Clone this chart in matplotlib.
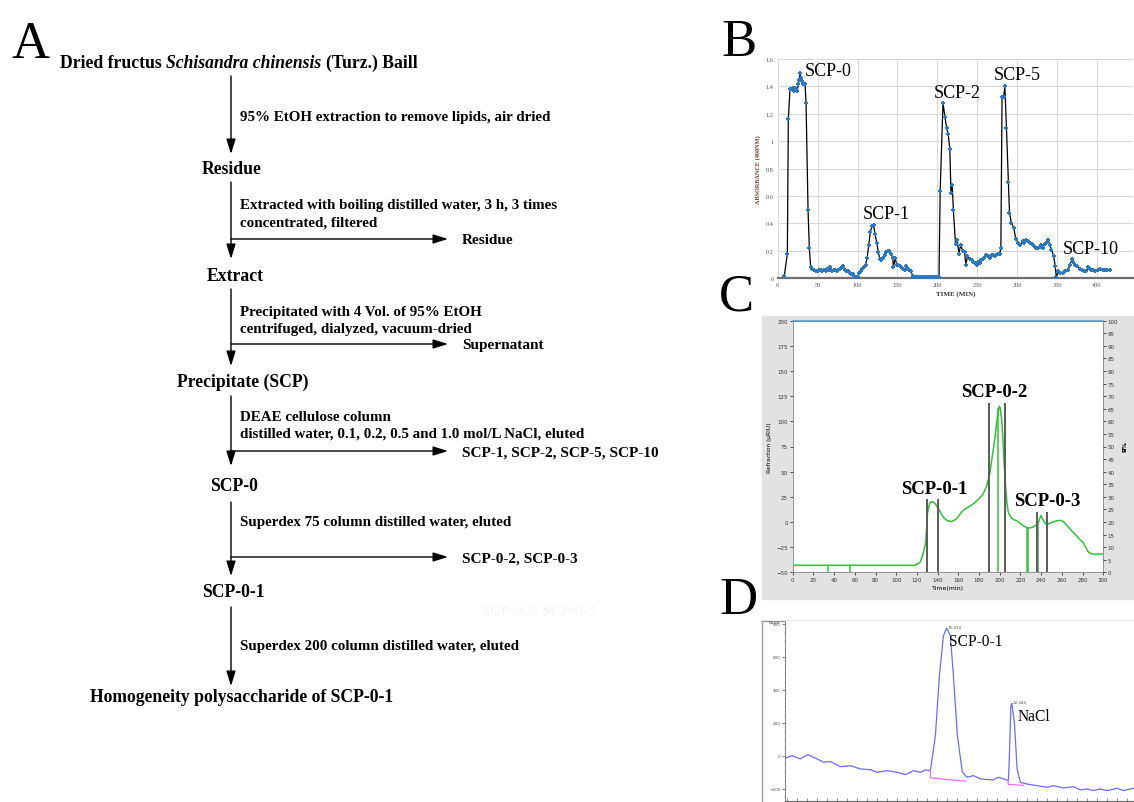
import matplotlib
matplotlib.use('Agg')
import matplotlib.pyplot as plt
from matplotlib.patches import Rectangle, ArrowStyle
from matplotlib.ticker import MultipleLocator

W, H = 1134, 803
SERIF = 'Liberation Serif'
SANS = 'DejaVu Sans'

# ---------------- Panel A: flow chart text ----------------
title_parts = [("Dried fructus", 'normal'), ("Schisandra chinensis", 'italic'), ("(Turz.) Baill", 'normal')]
headings = ["Residue", "Extract", "Precipitate (SCP)", "SCP-0", "SCP-0-1",
            "Homogeneity polysaccharide of SCP-0-1"]
steps = [["95% EtOH extraction to remove lipids, air dried"],
         ["Extracted with boiling distilled water, 3 h, 3 times", "concentrated, filtered"],
         ["Precipitated with 4 Vol. of 95% EtOH", "centrifuged, dialyzed, vacuum-dried"],
         ["DEAE cellulose column", "distilled water, 0.1, 0.2, 0.5 and 1.0 mol/L NaCl, eluted"],
         ["Superdex 75 column distilled water, eluted"],
         ["Superdex 200 column distilled water, eluted"]]
branches = ["Residue", "Supernatant", "SCP-1, SCP-2, SCP-5, SCP-10", "SCP-0-2, SCP-0-3"]

# ---------------- Panel B: DEAE elution ----------------
b_time = [8.3, 12.1, 13.3, 15.4, 17.5, 18.8, 20.5, 21.7, 23.3, 24.6, 26, 27.1, 27.9, 29, 30.2, 32, 34.2, 35.5,
          38, 39.6, 41.3, 43.5, 45.5, 48, 50, 52, 54, 56, 58, 60, 62, 64, 66, 68, 70, 72, 74, 76, 78, 80, 82,
          84, 86, 88, 90, 92, 94, 96, 98, 100, 102, 104, 106, 108, 110, 112, 114, 116, 118, 120, 122, 124,
          126, 128, 130, 132, 134, 136, 138, 140, 142, 144, 145, 147, 149, 151, 153, 155, 157, 159, 161, 163,
          165, 167, 169, 170, 172, 174, 176, 178, 180, 182, 184, 186, 188, 190, 192, 194, 196, 198, 200, 202,
          203.5, 207, 209.4, 211.5, 213.6, 215.6, 217, 218.6, 220, 222.7, 224.8, 227, 229, 232, 234, 235.7,
          237.7, 240.7, 243, 245, 247, 249, 251, 253, 255, 257, 259, 261.5, 263.5, 265.7, 268, 270, 272, 274,
          276, 278, 279.5, 281, 283, 284.5, 286.5, 289, 290.3, 292.8, 295.7, 298, 301, 304, 307, 309, 311.6,
          314, 316, 318, 320, 322, 324, 326, 328, 330, 332, 334.5, 336.5, 338.7, 341, 342.9, 345.8, 347.5,
          349, 351.6, 354, 357.5, 360, 363.7, 366, 368.7, 370, 372, 375, 378, 381, 384, 386.7, 388.5, 390.8,
          393, 395, 398, 401, 404, 407.5, 410, 413, 416]
b_abs = [0.02, 0.18, 1.16, 1.38, 1.38, 1.39, 1.37, 1.39, 1.38, 1.37, 1.42, 1.45, 1.50, 1.46, 1.44, 1.42, 1.42, 1.28,
         0.50, 0.22, 0.08, 0.07, 0.06, 0.05, 0.05, 0.06, 0.06, 0.05, 0.06, 0.05, 0.07, 0.06, 0.08, 0.05, 0.06,
         0.06, 0.05, 0.06, 0.07, 0.08, 0.09, 0.06, 0.05, 0.05, 0.04, 0.03, 0.03, 0.02, 0.01, 0.01, 0.04, 0.05,
         0.07, 0.08, 0.10, 0.15, 0.24, 0.34, 0.38, 0.39, 0.32, 0.26, 0.19, 0.14, 0.13, 0.15, 0.17, 0.19, 0.20,
         0.20, 0.18, 0.15, 0.08, 0.15, 0.10, 0.10, 0.09, 0.08, 0.07, 0.06, 0.09, 0.07, 0.06, 0.05, 0.02, 0.01,
         0.01, 0.01, 0.01, 0.01, 0.01, 0.01, 0.01, 0.01, 0.01, 0.01, 0.01, 0.01, 0.01, 0.01, 0.01, 0.01,
         0.64, 1.28, 1.18, 1.10, 1.05, 0.94, 0.62, 0.68, 0.50, 0.25, 0.28, 0.18, 0.24, 0.20, 0.19, 0.10,
         0.16, 0.14, 0.13, 0.12, 0.11, 0.10, 0.12, 0.11, 0.13, 0.14, 0.15, 0.17, 0.16, 0.15, 0.17, 0.17, 0.16,
         0.17, 0.18, 0.18, 0.22, 1.32, 1.32, 1.40, 1.10, 0.70, 0.48, 0.40, 0.37, 0.29, 0.26, 0.24, 0.27, 0.26,
         0.28, 0.27, 0.26, 0.25, 0.24, 0.23, 0.22, 0.22, 0.23, 0.24, 0.22, 0.25, 0.26, 0.28, 0.24, 0.21, 0.16,
         0.09, 0.01, 0.05, 0.04, 0.04, 0.05, 0.06, 0.10, 0.14, 0.12, 0.10, 0.09, 0.07, 0.06, 0.05, 0.05, 0.08,
         0.07, 0.06, 0.06, 0.05, 0.06, 0.07, 0.06, 0.06, 0.06, 0.06]
b_labels = ["SCP-0", "SCP-1", "SCP-2", "SCP-5", "SCP-10"]
b_label_t = [34, 106, 195, 271, 357]
b_label_y = [1.515, 0.47, 1.357, 1.49, 0.214]

# ---------------- Panel C: Superdex 75 ----------------
c_time = [0, 118, 120, 123, 125, 127, 128.5, 130.3, 132.6, 134.5, 137, 139, 142, 145.5, 149, 153.5, 158, 161,
          165, 170, 174.4, 179, 184, 187, 189, 190.5, 192, 193.8, 195.5, 197, 198.5, 199.5, 200.5, 201.8, 203,
          204, 205, 206, 207, 208.2, 210, 211.5, 214, 216.3, 220, 222.7, 226, 229, 232.4, 235, 237.2, 238.5,
          239.8, 241, 242, 245, 248, 250, 253, 256.5, 259, 261.3, 264, 267.8, 271, 274, 277, 280.7, 283, 285,
          287, 290, 293.5, 297, 300]
c_ri = [-43, -43, -42, -40, -35, -27, -20, 9.6, 19.5, 20.3, 19, 16, 11, 4.6, 1.5, 0.3, 3, 7,
        12, 15, 18, 22, 28, 35, 42, 49, 60, 72, 85, 99, 110, 115, 113, 102, 83,
        62, 45, 30, 18, 10, 6, 3.6, 2, 1.3, -1.5, -3.6, -5.5, -6, -5, -3, -1, 3,
        6.5, 4, 1.5, -2.5, -1.5, -0.5, 0.5, 1.5, 1.5, 0.5, -2.5, -7, -10.5, -13.6, -17, -20.5, -25, -29,
        -31, -32, -32, -31.8, -31.8]
c_cut_t = [130, 140, 190, 205, 236, 246]
c_cut_top = [23, 23, 118, 118, 10, 10]
c_mark_t = [34, 55, 198.5, 226, 226.8, 237]
c_mark_top = [-43, -43, 113, -5.5, -5.5, -1]
c_grad_t = [0, 300]
c_grad_b = [100, 100]
c_labels = ["SCP-0-1", "SCP-0-2", "SCP-0-3"]
c_label_t = [104.5, 163, 214]
c_label_y = [33, 130, 21]

# ---------------- Panel D: Superdex 200 ----------------
d_time = [-0.2, 0.47, 1.3, 2.03, 2.97, 3.63, 4.3, 5.3, 6.3, 7.3, 8.3, 8.97, 9.97, 10.97, 11.8, 12.6, 13.3, 13.8,
          14.3, 14.8, 15.2, 15.6, 15.93, 16.3, 16.6, 17.0, 17.5, 17.97, 18.6, 19.3, 19.97, 20.6, 21.1, 21.8,
          22.1, 22.2, 22.35, 22.444, 22.7, 22.97, 23.3, 23.97, 24.97, 25.97, 26.6, 27.6, 28.6, 29.3, 29.97,
          30.6, 31.3, 31.97, 32.97, 33.6, 34.3, 34.6]
d_sig = [-12, 2, -18, 8, -18, -38, -34, -65, -59, -79, -83, -99, -89, -99, -113, -89, -99, -85,
         -89, 123, 487, 729, 774, 729, 487, 123, -99, -129, -119, -139, -143, -145, -129, -143,
         -149, 2, 305, 320, 204, -79, -160, -170, -180, -190, -180, -194, -186, -206, -200,
         -210, -200, -210, -196, -210, -200, -196]
d_base1_t = [14.3, 14.3, 17.8]
d_base1_v = [-89, -133, -153]
d_base2_t = [22.07, 22.07, 23.6]
d_base2_v = [-149, -172, -178]
d_peak_t = [15.930, 22.444]
d_peak_v = [774, 320]
d_labels = ["SCP-0-1", "NaCl"]
d_label_t = [16.2, 22.97]
d_label_v = [695, 240]

# =========================================================
fig = plt.figure(figsize=(W / 100, H / 100), dpi=100)

axA = fig.add_axes([0, 0, 1, 1])
axA.set_xlim(0, W)
axA.set_ylim(H, 0)
axA.axis('off')

# backgrounds/frames for C and D
axA.add_patch(Rectangle((762, 317), 372, 283, color='#e2e2e2', zorder=0))
axA.plot([762, 762], [622, 803], color='#9a9a9a', lw=1.0)
axA.plot([762, 1134], [622, 622], color='#9a9a9a', lw=1.0)

# panel letters
for letter, (lx, ly) in zip("ABCD", [(12, 58), (721, 56), (719, 311), (719, 614)]):
    axA.text(lx, ly, letter, fontfamily=SERIF, fontsize=38, ha='left', va='baseline')

r = fig.canvas.get_renderer()
x = 60
for s, st in title_parts:
    t = axA.text(x, 63, s, fontfamily=SERIF, fontweight='bold', fontstyle=st, fontsize=12.7,
                 ha='left', va='center')
    bb = t.get_window_extent(renderer=r)
    x = bb.x1 + 4.5

AX = 231
arrow_style = ArrowStyle('-|>', head_length=0.9, head_width=0.28)
def arrow(x0, y0, x1, y1):
    axA.annotate('', xy=(x1, y1), xytext=(x0, y0),
                 arrowprops=dict(arrowstyle=arrow_style, color='black', lw=1.0,
                                 mutation_scale=10, shrinkA=0, shrinkB=0))

seg = [(77, 155), (183, 260), (290, 367), (397, 467), (503, 577), (608, 687)]
for y0, y1 in seg:
    arrow(AX, y0, AX, y1)

head_x = [202, 207, 177, 210, 202, 90]
head_y = [170, 277, 382, 487, 593, 698]
for s, hx, hy in zip(headings, head_x, head_y):
    axA.text(hx, hy, s, fontfamily=SERIF, fontweight='bold', fontsize=12.7, ha='left', va='center')

step_y = [[117], [205, 223], [313, 330], [418, 434], [523], [647]]
for lines, ys in zip(steps, step_y):
    for s, yy in zip(lines, ys):
        axA.text(240, yy, s, fontfamily=SERIF, fontweight='bold', fontsize=10.8, ha='left', va='center')

branch_y = [240, 345, 452, 558]
for s, yy in zip(branches, branch_y):
    arrow(AX, yy, 448, yy)
    axA.text(462, yy + 1, s, fontfamily=SERIF, fontweight='bold', fontsize=11, ha='left', va='center')

axA.text(482, 611, "SCP-0-2, SCP-0-3", fontfamily=SERIF, fontsize=11, color='#f3f3f3', ha='left', va='center')

# ---------------- Panel B ----------------
axB = fig.add_axes([777.7 / W, 1 - 279.3 / H, (1133 - 777.7) / W, (279.3 - 60) / H])
axB.plot(b_time, b_abs, color='black', lw=0.9, zorder=3)
axB.plot(b_time, b_abs, ls='none', marker='+', ms=3.4, mew=1.4, color='#2a78c2', zorder=4)
axB.set_xlim(0, 445)
axB.set_ylim(0, 1.6)
axB.set_xticks([0, 50, 100, 150, 200, 250, 300, 350, 400])
axB.set_xticklabels(['0', '50', '100', '150', '200', '250', '300', '350', '400'])
axB.set_yticks([0, 0.2, 0.4, 0.6, 0.8, 1.0, 1.2, 1.4, 1.6])
axB.set_yticklabels(['0', '0.2', '0.4', '0.6', '0.8', '1', '1.2', '1.4', '1.6'])
axB.grid(True, color='#d9d9d9', lw=0.8)
axB.set_axisbelow(True)
for sp in ['top', 'right', 'left']:
    axB.spines[sp].set_visible(False)
axB.spines['bottom'].set_color('#6f6f6f')
axB.spines['bottom'].set_linewidth(1.6)
axB.tick_params(length=0, labelsize=4.5, colors='#555555', pad=3)
for lab in axB.get_xticklabels() + axB.get_yticklabels():
    lab.set_fontfamily(SERIF)
axB.set_xlabel("TIME (MIN)", fontfamily=SERIF, fontweight='bold', fontsize=5, color='#333333', labelpad=2)
axB.set_ylabel("ABSORBANCE (490NM)", fontfamily=SERIF, fontweight='bold', fontsize=4.5, color='#7a3b2e', labelpad=3)
for s, tx, ty in zip(b_labels, b_label_t, b_label_y):
    axB.text(tx, ty, s, fontfamily=SERIF, fontsize=13, ha='left', va='center')

# ---------------- Panel C ----------------
axC = fig.add_axes([792.7 / W, 1 - 573.3 / H, (1103.3 - 792.7) / W, (573.3 - 321.7) / H])
axC.plot(c_time, c_ri, color='#31c03b', lw=1.1, zorder=3)
axC.vlines(c_cut_t, -50, c_cut_top, color='#5a5a5a', lw=1.4, zorder=4)
axC.vlines(c_mark_t, -50, c_mark_top, color='#31c03b', lw=1.1, zorder=3)
axC.set_xlim(0, 300)
axC.set_ylim(-50, 200)
axC.xaxis.set_major_locator(MultipleLocator(20))
axC.yaxis.set_major_locator(MultipleLocator(25))
axC.tick_params(labelsize=4, length=2, width=0.6, colors='#333333', pad=1.5)
for sp in axC.spines.values():
    sp.set_color('#888888')
    sp.set_linewidth(0.6)
axC.set_xlabel("Time(min)", fontsize=4.5, fontfamily=SANS, labelpad=2)
axC.set_ylabel("Refraction (\u00b5RIU)", fontsize=4.2, fontfamily=SANS, labelpad=3)
axC2 = axC.twinx()
axC2.plot(c_grad_t, c_grad_b, color='#5b9bd5', lw=1.2, clip_on=False)
axC2.set_ylim(0, 100)
axC2.yaxis.set_major_locator(MultipleLocator(5))
axC2.tick_params(labelsize=4, length=2, width=0.6, colors='#333333', pad=1)
axC2.set_ylabel("%B", fontsize=4.5, fontweight='bold', rotation=270, labelpad=5)
for sp in axC2.spines.values():
    sp.set_visible(False)
for s, tx, ty in zip(c_labels, c_label_t, c_label_y):
    axC.text(tx, ty, s, fontfamily=SERIF, fontweight='bold', fontsize=13.5, ha='left', va='center', zorder=5)

# ---------------- Panel D ----------------
axD = fig.add_axes([785 / W, 1 - 802 / H, (W - 785) / W, (802 - 622) / H])
axD.plot(d_time, d_sig, color='#6b6bff', lw=0.9)
axD.plot(d_base1_t, d_base1_v, color='#ff66ff', lw=0.9)
axD.plot(d_base2_t, d_base2_v, color='#ff66ff', lw=0.9)
axD.set_xlim(-0.24, 34.66)
axD.set_ylim(-273, 818)
axD.yaxis.set_major_locator(MultipleLocator(200))
axD.yaxis.set_minor_locator(MultipleLocator(50))
axD.xaxis.set_major_locator(MultipleLocator(1))
axD.tick_params(axis='x', direction='in', length=2.5, width=0.5, labelbottom=False, colors='#555555')
axD.tick_params(axis='y', which='major', length=2, width=0.5, labelsize=3, colors='#555555', pad=1)
axD.tick_params(axis='y', which='minor', length=1, width=0.4, colors='#777777')
axD.spines['top'].set_visible(False)
axD.spines['right'].set_visible(False)
axD.spines['left'].set_color('#666666')
axD.spines['bottom'].set_color('#666666')
axD.spines['left'].set_linewidth(0.6)
axD.spines['bottom'].set_linewidth(0.8)
axD.text(-0.6, 812, "Norm.", fontsize=3, ha='right', va='center', color='#555555')
for tv, vv in zip(d_peak_t, d_peak_v):
    axD.text(tv + 0.08, vv + 8, f"{tv:.3f}", fontsize=3, color='#555555', ha='left', va='center')
for s, tx, ty in zip(d_labels, d_label_t, d_label_v):
    axD.text(tx, ty, s, fontfamily=SERIF, fontsize=11.2, ha='left', va='center')

fig.savefig('out.png', dpi=100)
